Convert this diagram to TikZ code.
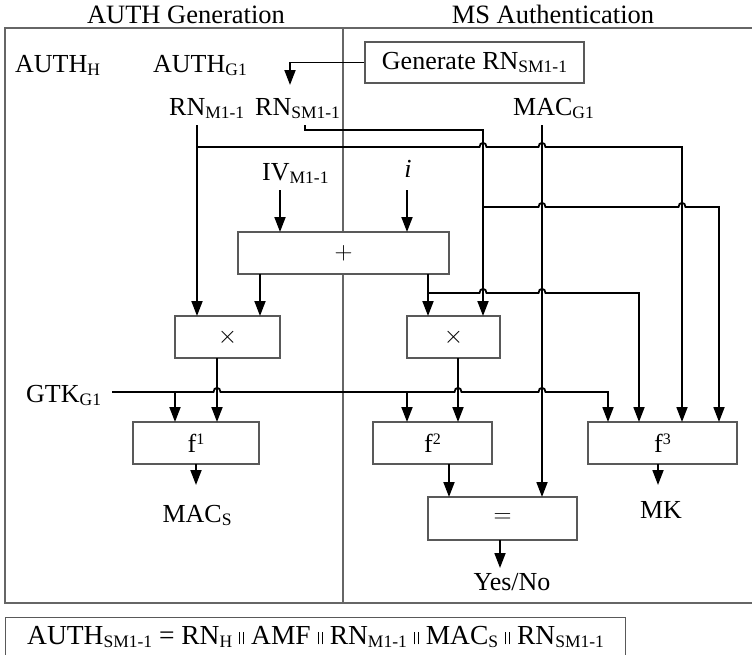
\documentclass[tikz,border=0pt]{standalone}
\usepackage{fontspec}
\setmainfont{Liberation Serif}
\usetikzlibrary{arrows.meta}
% lowered / raised indices in text
\newcommand\subtx[1]{\raisebox{-3.5pt}{\fontsize{17.5}{17.5}\selectfont #1}}
\newcommand\suptx[1]{\raisebox{8.5pt}{\fontsize{16}{16}\selectfont #1}}
% concatenation bars
\newcommand\dbar{\rule{1.3pt}{12pt}\kern2.6pt\rule{1.3pt}{12pt}}
% small hop of a horizontal wire over a vertical one at x=#1, y=#2
\newcommand\hp[2]{-- (#1-3.5,#2) .. controls (#1-3.5,#2-5.5) and (#1+3.5,#2-5.5) .. (#1+3.5,#2)}

\begin{document}
\begin{tikzpicture}[x=1pt,y=-1pt,
  lbl/.style={anchor=base, inner sep=0pt, font=\fontsize{26}{30}\selectfont},
  ttl/.style={anchor=base, inner sep=0pt, font=\fontsize{26.5}{30}\selectfont},
  blk/.style={draw=black!65, fill=white, line width=1.1pt, inner sep=0pt, font=\fontsize{26}{30}\selectfont},
  frm/.style={draw=black!60, line width=1.1pt},
  wire/.style={line width=1.8pt, draw=black},
  arr/.style={wire, -{Triangle[length=15pt,width=11pt]}},
]
\useasboundingbox (0,0) rectangle (752,654);

% frame and the two halves
\draw[frm] (752,28) -- (5,28) -- (5,603) -- (752,603);
\draw[frm] (343,28) -- (343,603);
\node[ttl] (tg) at (186,23) {AUTH Generation};
\node[ttl] (tm) at (553,23) {MS Authentication};

% inputs and outputs
\node[lbl, anchor=base west] (authh) at (15,72) {AUTH\subtx{H}};
\node[lbl, anchor=base west] (authg) at (153,72) {AUTH\subtx{G1}};
\node[lbl, anchor=base west] (rnm) at (169,115) {RN\subtx{M1-1}};
\node[lbl, anchor=base west] (rns) at (255,115) {RN\subtx{SM1-1}};
\node[lbl, anchor=base west] (macg) at (513,115) {MAC\subtx{G1}};
\node[lbl, anchor=base west] (iv) at (262,180) {IV\subtx{M1-1}};
\node[lbl] (ii) at (408,177) {\itshape i};
\node[lbl, anchor=base west] (gtk) at (26,402) {GTK\subtx{G1}};
\node[lbl] (macs) at (197,522) {MAC\subtx{S}};
\node[lbl] (mk) at (661,518) {MK};
\node[lbl] (yn) at (512,590) {Yes/No};

% function blocks
\node[blk, minimum width=219pt, minimum height=41pt] (gen) at (474.5,62.5) {Generate RN\subtx{SM1-1}};
\node[blk, minimum width=211pt, minimum height=42pt] (plus) at (343.5,253) {$+$};
\node[blk, minimum width=105pt, minimum height=42pt] (mulL) at (227.5,337) {$\times$};
\node[blk, minimum width=93pt, minimum height=42pt] (mulR) at (453.5,337) {$\times$};
\node[blk, minimum width=126pt, minimum height=42pt] (f1) at (196,443) {f\suptx{1}};
\node[blk, minimum width=119pt, minimum height=42pt] (f2) at (432.5,443) {f\suptx{2}};
\node[blk, minimum width=149pt, minimum height=42pt] (f3) at (662.5,443) {f\suptx{3}};
\node[blk, minimum width=149pt, minimum height=43pt] (eq) at (502.5,518.5) {$=$};

% concatenated token
\node[blk, anchor=north west, minimum width=620pt, minimum height=39pt, font=\fontsize{27.5}{30}\selectfont] (fml) at (5,617)
  {AUTH\subtx{SM1-1} = RN\subtx{H} \dbar{} AMF \dbar{} RN\subtx{M1-1} \dbar{} MAC\subtx{S} \dbar{} RN\subtx{SM1-1}};

% generated random number
\draw[arr] (gen.west) -- (290,62.5) -- (290,85);

% RN_M1-1 bus
\draw[arr] (197,125) -- (197,316);
\draw[arr] (197,147) \hp{483}{147} \hp{542}{147} -- (682,147) -- (682,422);

% RN_SM1-1 bus
\draw[arr] (305,125) -- (305,130) -- (483,130) -- (483,316);
\draw[arr] (483,207) \hp{542}{207} \hp{682}{207} -- (719,207) -- (719,422);

% MAC_G1
\draw[arr] (542,125) -- (542,497);

% IV and i into the adder
\draw[arr] (280,190) -- (280,232);
\draw[arr] (407,190) -- (407,232);

% adder outputs
\draw[arr] (260,274) -- (260,316);
\draw[arr] (428,274) -- (428,316);
\draw[arr] (428,293) \hp{483}{293} \hp{542}{293} -- (639,293) -- (639,422);

% multiplier outputs
\draw[arr] (217,358) -- (217,422);
\draw[arr] (458,358) -- (458,422);

% GTK_G1 bus
\draw[arr] (112,392) \hp{217}{392} \hp{458}{392} \hp{542}{392} -- (608,392) -- (608,422);
\draw[arr] (175,392) -- (175,422);
\draw[arr] (407,392) -- (407,422);

% block outputs
\draw[arr] (196,464) -- (196,485);
\draw[arr] (449,464) -- (449,497);
\draw[arr] (658,464) -- (658,485);
\draw[arr] (500,540) -- (500,568);
\end{tikzpicture}
\end{document}
